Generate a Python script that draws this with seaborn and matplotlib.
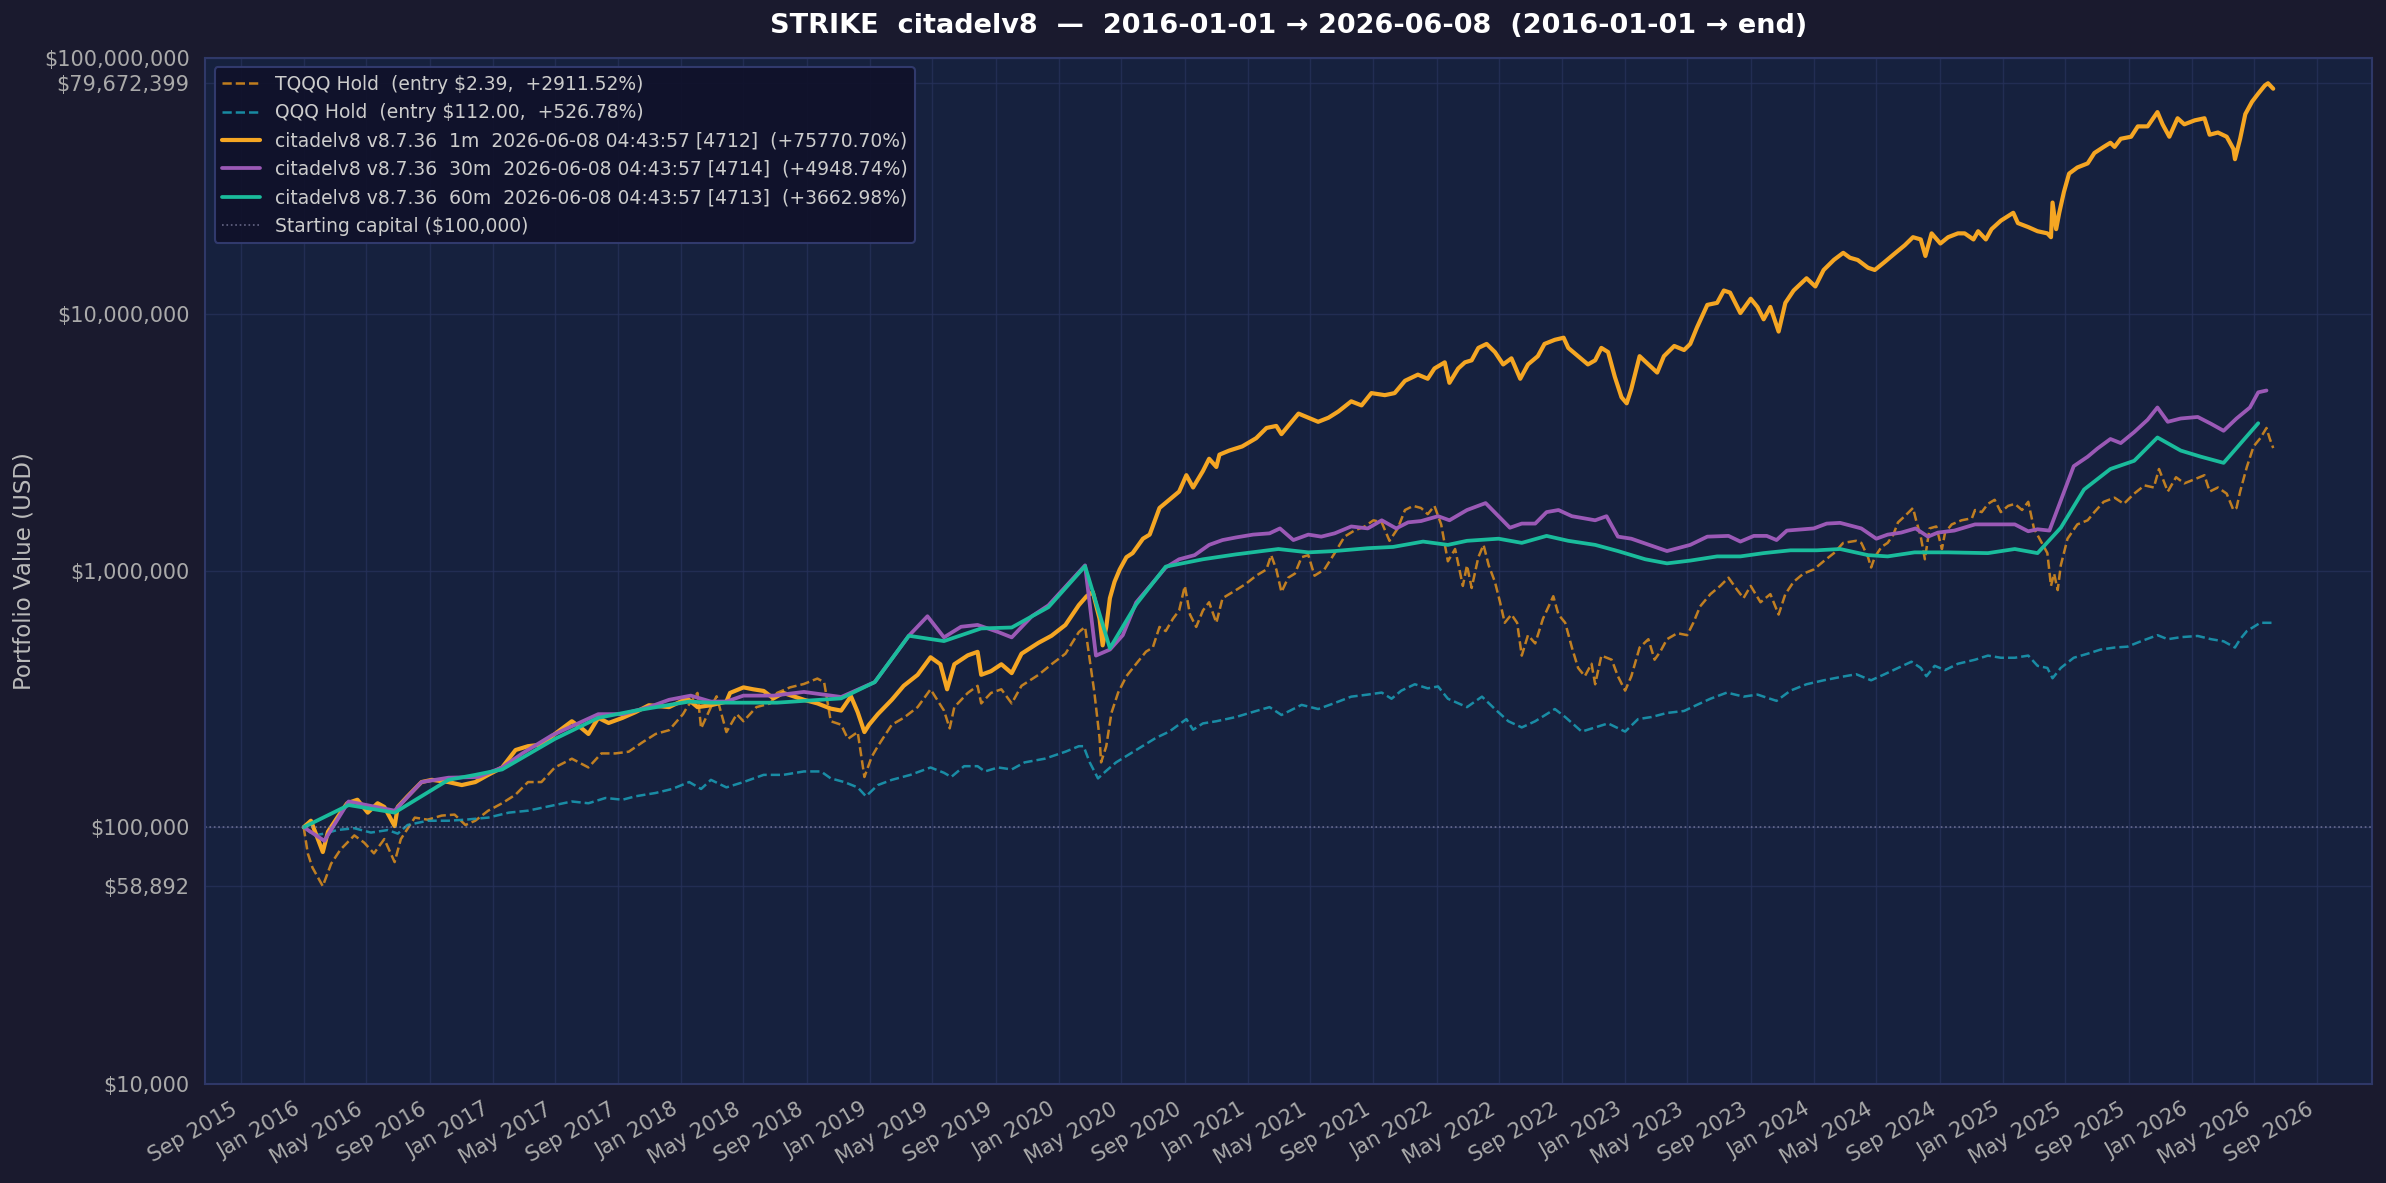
import numpy as np
import pandas as pd
import matplotlib
matplotlib.use("Agg")
import matplotlib.pyplot as plt
import matplotlib.dates as mdates
import matplotlib.ticker as mticker
import seaborn as sns

# equity curves, values in $ thousands

m1_dates = [
    "2016-01-01", "2016-01-15", "2016-02-07", "2016-02-17", "2016-03-06", "2016-03-25", "2016-04-14", "2016-05-04", "2016-05-23", "2016-06-05",
    "2016-06-25", "2016-07-01", "2016-07-20", "2016-08-16", "2016-09-05", "2016-10-07", "2016-11-02", "2016-11-28", "2016-12-23",
    "2017-01-19", "2017-02-14", "2017-03-10", "2017-04-05", "2017-05-01", "2017-06-03", "2017-06-22", "2017-07-05", "2017-07-24", "2017-08-13",
    "2017-09-09", "2017-10-04", "2017-10-30", "2017-12-08",
    "2018-01-12", "2018-02-01", "2018-02-27", "2018-03-29", "2018-04-05", "2018-05-01", "2018-05-20", "2018-06-09", "2018-06-28", "2018-07-17",
    "2018-08-06", "2018-08-26", "2018-09-21", "2018-10-17", "2018-11-06", "2018-11-25", "2018-12-08", "2018-12-21", "2018-12-30",
    "2019-01-16", "2019-02-12", "2019-03-07", "2019-04-03", "2019-04-28", "2019-05-17", "2019-05-30", "2019-06-13", "2019-07-09", "2019-07-28",
    "2019-08-04", "2019-08-23", "2019-09-12", "2019-10-02", "2019-10-21", "2019-11-23", "2019-12-18",
    "2020-01-14", "2020-02-09", "2020-02-24", "2020-03-07", "2020-03-20", "2020-03-26", "2020-04-02", "2020-04-09", "2020-04-18", "2020-04-28",
    "2020-05-11", "2020-05-23", "2020-06-12", "2020-06-25", "2020-07-14", "2020-08-02", "2020-08-21", "2020-09-04", "2020-09-17", "2020-10-06",
    "2020-10-18", "2020-11-01", "2020-11-07", "2020-11-26", "2020-12-21",
    "2021-01-17", "2021-02-06", "2021-02-25", "2021-03-07", "2021-03-20", "2021-04-09", "2021-04-28", "2021-05-17", "2021-06-06", "2021-06-25",
    "2021-07-20", "2021-08-09", "2021-08-28", "2021-09-23", "2021-10-12", "2021-11-01", "2021-11-26", "2021-12-15", "2021-12-28",
    "2022-01-17", "2022-01-26", "2022-02-12", "2022-02-25", "2022-03-10", "2022-03-23", "2022-04-08", "2022-04-24", "2022-05-10", "2022-05-26",
    "2022-06-12", "2022-06-27", "2022-07-16", "2022-07-29", "2022-08-18", "2022-09-04", "2022-09-13", "2022-10-02", "2022-10-21", "2022-11-04",
    "2022-11-16", "2022-11-29", "2022-12-12", "2022-12-25",
    "2023-01-04", "2023-01-13", "2023-01-29", "2023-02-15", "2023-03-04", "2023-03-17", "2023-04-06", "2023-04-25", "2023-05-07", "2023-05-20",
    "2023-06-09", "2023-06-28", "2023-07-11", "2023-07-23", "2023-08-12", "2023-09-01", "2023-09-14", "2023-09-26", "2023-10-09", "2023-10-25",
    "2023-11-07", "2023-11-23", "2023-12-18",
    "2024-01-04", "2024-01-20", "2024-02-09", "2024-02-27", "2024-03-11", "2024-03-26", "2024-04-15", "2024-04-28", "2024-05-17", "2024-06-06",
    "2024-06-25", "2024-07-11", "2024-07-26", "2024-08-04", "2024-08-16", "2024-09-02", "2024-09-17", "2024-10-06", "2024-10-19", "2024-11-05",
    "2024-11-14", "2024-11-29", "2024-12-10", "2024-12-28",
    "2025-01-21", "2025-01-30", "2025-02-19", "2025-03-09", "2025-03-28", "2025-04-04", "2025-04-07", "2025-04-14", "2025-04-20", "2025-04-29",
    "2025-05-09", "2025-05-25", "2025-06-14", "2025-06-27", "2025-07-15", "2025-07-28", "2025-08-05", "2025-08-17", "2025-09-06", "2025-09-19",
    "2025-10-08", "2025-10-27", "2025-11-06", "2025-11-19", "2025-12-05", "2025-12-18",
    "2026-01-07", "2026-01-26", "2026-02-05", "2026-02-21", "2026-03-10", "2026-03-23", "2026-03-26", "2026-04-05", "2026-04-15", "2026-04-28",
    "2026-05-10", "2026-05-23", "2026-05-29", "2026-06-08",
]
m1_k = [
    100, 106, 80, 96, 109, 124, 128, 114, 124, 120, 101, 120, 132, 150, 153, 150, 146, 150, 160,
    171, 200, 207, 210, 231, 259, 243, 231, 267, 255, 267, 281, 299, 294,
    318, 294, 299, 309, 334, 351, 345, 340, 318, 334, 324, 314, 304, 290, 285, 324, 281, 235, 251,
    276, 314, 356, 393, 460, 432, 345, 432, 468, 483, 393, 406, 432, 399, 475, 524, 558,
    615, 735, 796, 826, 650, 512, 604, 782, 906, 1012, 1130, 1172, 1334, 1384, 1758, 1892, 2037, 2360, 2113, 2449,
    2735, 2541, 2838, 2944, 3055,
    3289, 3606, 3673, 3412, 3673, 4103, 3954, 3811, 3954, 4179, 4581, 4416, 4932, 4842, 4932, 5508, 5821, 5610, 6152,
    6501, 5408, 6152, 6501, 6620, 7400, 7670, 7130, 6380, 6740, 5610, 6380, 6870, 7670, 7960, 8110, 7400, 6870, 6380, 6620,
    7400, 7130, 5710, 4750,
    4500, 5120, 6870, 6380, 5930, 6870, 7530, 7260, 7670, 8890, 10890, 11090, 12390, 12160, 10120, 11510, 10690, 9570, 10690, 8570,
    11090, 12390, 13830,
    12850, 14890, 16320, 17380, 16630, 16300, 15200, 14900, 16000, 17300, 18600, 20000, 19600, 16900, 20700, 18900, 20000, 20700, 20700, 19600,
    21100, 19600, 21500, 23200,
    24900, 22700, 21900, 21100, 20700, 20000, 27300, 21500, 24900, 30000, 35400, 37400, 38800, 42600, 45000, 46700, 45000, 48400, 49300, 54100,
    54100, 61500, 55100, 49300, 58200, 55100,
    57100, 58200, 50200, 51200, 49300, 44200, 40300, 48400, 60400, 67500, 72600, 78200, 79672.399, 75870.7,
]

m30_dates = [
    "2016-01-01", "2016-02-10", "2016-03-28", "2016-06-25", "2016-08-16", "2016-10-07", "2016-12-04", "2017-01-19", "2017-02-27", "2017-04-25",
    "2017-07-24", "2017-09-09", "2017-10-30", "2017-12-08", "2018-01-19", "2018-02-27", "2018-03-29", "2018-05-01", "2018-06-28", "2018-08-26",
    "2018-11-06", "2019-01-10", "2019-03-17", "2019-04-22", "2019-05-24", "2019-06-26", "2019-07-28", "2019-09-06", "2019-10-02", "2019-11-10",
    "2019-12-12", "2020-02-21", "2020-03-13", "2020-04-09", "2020-05-04", "2020-05-30", "2020-07-26", "2020-08-21", "2020-09-20", "2020-10-18",
    "2020-11-13", "2020-12-09", "2021-01-11", "2021-02-12", "2021-03-04", "2021-03-30", "2021-04-28", "2021-05-23", "2021-06-18", "2021-07-20",
    "2021-08-21", "2021-09-17", "2021-10-15", "2021-11-07", "2021-12-02", "2022-01-04", "2022-01-26", "2022-03-01", "2022-04-06", "2022-05-23",
    "2022-06-15", "2022-07-11", "2022-08-02", "2022-08-25", "2022-09-20", "2022-11-04", "2022-11-26", "2022-12-18", "2023-01-13", "2023-03-23",
    "2023-05-07", "2023-06-09", "2023-07-20", "2023-08-12", "2023-09-07", "2023-10-02", "2023-10-21", "2023-11-10", "2024-01-01", "2024-01-26",
    "2024-02-21", "2024-04-02", "2024-05-01", "2024-05-23", "2024-06-18", "2024-07-16", "2024-08-09", "2024-08-28", "2024-09-29", "2024-11-08",
    "2025-01-24", "2025-02-19", "2025-03-09", "2025-04-01", "2025-05-18", "2025-06-14", "2025-07-03", "2025-07-28", "2025-08-17", "2025-09-12",
    "2025-10-08", "2025-10-27", "2025-11-16", "2025-12-11", "2026-01-13", "2026-02-08", "2026-03-04", "2026-03-29", "2026-04-24", "2026-05-10",
    "2026-05-26",
]
m30_k = [
    100, 88.5, 126, 116, 150, 156, 157, 171, 194, 228,
    276, 276, 294, 314, 326, 309, 309, 326, 326, 337,
    322, 368, 558, 665, 550, 605, 615, 577, 550, 665,
    733, 1050, 467, 493, 561, 753, 1030, 1109, 1151, 1262,
    1318, 1349, 1384, 1400, 1463, 1318, 1384, 1359, 1400, 1489,
    1463, 1574, 1463, 1545, 1563, 1633, 1574, 1726, 1837, 1472,
    1528, 1528, 1694, 1726, 1633, 1574, 1633, 1359, 1334, 1194,
    1262, 1359, 1368, 1300, 1368, 1368, 1318, 1435, 1463, 1528,
    1538, 1463, 1334, 1384, 1409, 1463, 1359, 1409, 1435, 1517,
    1517, 1426, 1452, 1435, 2559, 2786, 2999, 3266, 3148, 3475,
    3882, 4335, 3811, 3926, 3981, 3741, 3516, 3926, 4335, 4966,
    5048.74,
]

m60_dates = [
    "2016-01-01", "2016-03-28", "2016-06-25", "2016-10-07", "2016-11-28", "2017-01-19", "2017-05-01", "2017-07-24", "2017-10-04", "2018-01-16",
    "2018-02-27", "2018-07-05", "2018-11-06", "2019-01-10", "2019-03-17", "2019-05-24", "2019-08-04", "2019-10-02", "2019-12-12", "2020-02-21",
    "2020-04-09", "2020-05-30", "2020-07-26", "2020-10-06", "2020-12-09", "2021-03-01", "2021-04-28", "2021-06-18", "2021-08-21", "2021-10-09",
    "2021-12-06", "2022-01-23", "2022-03-01", "2022-05-01", "2022-06-15", "2022-08-02", "2022-09-13", "2022-11-04", "2022-12-18", "2023-02-09",
    "2023-03-23", "2023-05-07", "2023-06-28", "2023-08-12", "2023-09-26", "2023-11-17", "2024-01-07", "2024-02-21", "2024-04-15", "2024-05-23",
    "2024-07-14", "2024-09-17", "2024-12-03", "2025-01-24", "2025-03-09", "2025-04-23", "2025-06-07", "2025-07-28", "2025-09-12", "2025-10-27",
    "2025-12-11", "2026-01-19", "2026-03-04", "2026-05-10",
]
m60_k = [
    100, 122, 114, 153, 160, 168, 221, 267, 285, 309,
    306, 306, 318, 368, 558, 532, 596, 601, 721, 1042,
    499, 740, 1038, 1109, 1159, 1216, 1180, 1194, 1225, 1239,
    1300, 1262, 1309, 1334, 1285, 1368, 1309, 1262, 1194, 1109,
    1069, 1096, 1138, 1138, 1172, 1202, 1202, 1216, 1151, 1138,
    1180, 1180, 1172, 1216, 1172, 1472, 2075, 2495, 2685, 3311,
    2944, 2786, 2636, 3762.98,
]

tqqq_dates = [
    "2016-01-01", "2016-01-09", "2016-01-18", "2016-02-04", "2016-02-07", "2016-02-23", "2016-03-12", "2016-04-08", "2016-04-27", "2016-05-16",
    "2016-06-05", "2016-06-25", "2016-07-07", "2016-08-03", "2016-08-28", "2016-09-24", "2016-10-19", "2016-11-09", "2016-11-28", "2016-12-23",
    "2017-01-19", "2017-02-14", "2017-03-10", "2017-04-05", "2017-05-01", "2017-06-03", "2017-07-05", "2017-07-30", "2017-08-26", "2017-09-21",
    "2017-10-17", "2017-11-12", "2017-12-08",
    "2018-01-04", "2018-01-12", "2018-02-01", "2018-02-08", "2018-02-27", "2018-03-10", "2018-03-29", "2018-04-18", "2018-05-01", "2018-05-26",
    "2018-06-22", "2018-07-05", "2018-07-30", "2018-08-26", "2018-09-21", "2018-10-04", "2018-10-17", "2018-11-06", "2018-11-19", "2018-12-08",
    "2018-12-21",
    "2019-01-04", "2019-01-16", "2019-02-12", "2019-03-07", "2019-04-03", "2019-04-28", "2019-05-24", "2019-06-04", "2019-06-13", "2019-07-09",
    "2019-07-28", "2019-08-04", "2019-08-23", "2019-09-12", "2019-10-02", "2019-10-21", "2019-11-23", "2019-12-18",
    "2020-01-14", "2020-02-09", "2020-02-21", "2020-03-01", "2020-03-10", "2020-03-20", "2020-03-23", "2020-04-02", "2020-04-12", "2020-04-25",
    "2020-05-11", "2020-05-30", "2020-06-18", "2020-07-01", "2020-07-14", "2020-07-26", "2020-08-09", "2020-08-21", "2020-09-01", "2020-09-11",
    "2020-09-23", "2020-10-06", "2020-10-18", "2020-11-01", "2020-11-13", "2020-12-09", "2020-12-28",
    "2021-01-17", "2021-02-06", "2021-02-15", "2021-02-25", "2021-03-07", "2021-03-20", "2021-04-02", "2021-04-15", "2021-04-28", "2021-05-10",
    "2021-05-29", "2021-06-18", "2021-07-07", "2021-07-26", "2021-08-15", "2021-09-01", "2021-09-17", "2021-10-02", "2021-10-18", "2021-11-01",
    "2021-11-17", "2021-12-02", "2021-12-15", "2021-12-28",
    "2022-01-10", "2022-01-23", "2022-02-06", "2022-02-21", "2022-03-01", "2022-03-10", "2022-03-23", "2022-04-02", "2022-04-12", "2022-04-24",
    "2022-05-04", "2022-05-13", "2022-05-26", "2022-06-06", "2022-06-15", "2022-06-27", "2022-07-11", "2022-07-26", "2022-08-06", "2022-08-15",
    "2022-08-25", "2022-09-07", "2022-09-20", "2022-10-02", "2022-10-15", "2022-10-28", "2022-11-04", "2022-11-16", "2022-12-06", "2022-12-18",
    "2023-01-01", "2023-01-13", "2023-01-29", "2023-02-15", "2023-02-27", "2023-03-10", "2023-03-23", "2023-04-12", "2023-05-01", "2023-05-13",
    "2023-05-26", "2023-06-15", "2023-07-04", "2023-07-20", "2023-08-06", "2023-08-18", "2023-09-01", "2023-09-20", "2023-10-09", "2023-10-25",
    "2023-11-07", "2023-11-23", "2023-12-12",
    "2024-01-01", "2024-01-20", "2024-02-09", "2024-02-27", "2024-03-23", "2024-04-02", "2024-04-15", "2024-04-21", "2024-04-28", "2024-05-11",
    "2024-05-23", "2024-06-03", "2024-06-12", "2024-06-25", "2024-07-11", "2024-07-17", "2024-07-26", "2024-08-03", "2024-08-12", "2024-08-25",
    "2024-09-05", "2024-09-11", "2024-09-24", "2024-10-13", "2024-11-02", "2024-11-08", "2024-11-21", "2024-12-03", "2024-12-16", "2024-12-28",
    "2025-01-11", "2025-01-24", "2025-02-07", "2025-02-19", "2025-03-02", "2025-03-15", "2025-03-28", "2025-04-04", "2025-04-10", "2025-04-17",
    "2025-04-23", "2025-05-06", "2025-05-25", "2025-06-14", "2025-06-27", "2025-07-15", "2025-08-05", "2025-08-23", "2025-09-12", "2025-10-02",
    "2025-10-20", "2025-10-30", "2025-11-16", "2025-12-02", "2025-12-18",
    "2026-01-07", "2026-01-26", "2026-02-05", "2026-02-21", "2026-03-10", "2026-03-23", "2026-03-29", "2026-04-05", "2026-04-18", "2026-05-01",
    "2026-05-14", "2026-05-26", "2026-06-01", "2026-06-08",
]
tqqq_k = [
    100, 79, 69.6, 60.3, 58.892, 72, 81.7, 92.9, 87.1, 79.1,
    89.9, 73.1, 89.9, 109, 107, 111, 112, 102, 106, 116,
    124, 134, 150, 150, 171, 185, 171, 194, 194, 197,
    214, 231, 239,
    276, 294, 334, 243, 294, 324, 235, 276, 259, 294,
    304, 334, 351, 362, 380, 368, 259, 251, 221, 235,
    157,
    188, 207, 251, 267, 294, 345, 285, 243, 294, 334,
    356, 304, 334, 345, 304, 356, 393, 432,
    475, 577, 604, 450, 335, 223, 179, 207, 279, 335,
    388, 434, 484, 502, 604, 582, 650, 700, 873, 675,
    604, 700, 754, 627, 782, 841, 889,
    957, 1012, 1151, 1012, 826, 940, 975, 1130, 1151, 957,
    1012, 1172, 1359, 1435, 1489, 1574, 1545, 1309, 1463, 1726,
    1791, 1758, 1663, 1791,
    1517, 1089, 1216, 873, 1050, 857, 1130, 1262, 1050, 906,
    754, 627, 675, 627, 467, 561, 521, 650, 726, 796,
    675, 627, 502, 418, 388, 434, 361, 467, 450, 388,
    341, 388, 502, 541, 450, 484, 541, 571, 561, 627,
    726, 811, 873, 940, 841, 782, 873, 754, 811, 675,
    811, 906, 975,
    1012, 1089, 1172, 1285, 1309, 1285, 1130, 1030, 1130, 1239,
    1285, 1384, 1545, 1633, 1758, 1574, 1359, 1109, 1463, 1489,
    1216, 1409, 1517, 1574, 1603, 1726, 1694, 1824, 1892, 1694,
    1791, 1824, 1726, 1858, 1463, 1309, 1172, 873, 975, 841,
    1050, 1334, 1517, 1574, 1694, 1858, 1928, 1824, 2000, 2153,
    2113, 2495, 2037, 2317, 2193,
    2275, 2360, 2037, 2113, 2000, 1726, 1758, 2037, 2541, 3055,
    3289, 3606, 3289, 3011.52,
]

qqq_dates = [
    "2016-01-01", "2016-01-21", "2016-02-10", "2016-03-06", "2016-04-08", "2016-05-10", "2016-06-12", "2016-07-01", "2016-07-20", "2016-08-28",
    "2016-10-07", "2016-11-09", "2016-12-23",
    "2017-02-01", "2017-03-10", "2017-05-01", "2017-06-03", "2017-07-05", "2017-08-07", "2017-09-09", "2017-10-04", "2017-11-12", "2017-12-14",
    "2018-01-16", "2018-02-08", "2018-02-27", "2018-03-29", "2018-05-01", "2018-06-09", "2018-07-17", "2018-08-26", "2018-09-28", "2018-10-17",
    "2018-11-12", "2018-12-08", "2018-12-24",
    "2019-01-16", "2019-02-12", "2019-03-20", "2019-04-28", "2019-05-24", "2019-06-07", "2019-07-02", "2019-07-28", "2019-08-11", "2019-09-06",
    "2019-10-02", "2019-10-27", "2019-12-05",
    "2020-01-14", "2020-02-09", "2020-02-18", "2020-03-01", "2020-03-17", "2020-04-02", "2020-04-21", "2020-05-30", "2020-07-07", "2020-08-02",
    "2020-09-04", "2020-09-17", "2020-10-06", "2020-11-01", "2020-12-09",
    "2021-01-17", "2021-02-12", "2021-03-07", "2021-04-15", "2021-05-17", "2021-06-18", "2021-07-20", "2021-08-21", "2021-09-17", "2021-10-06",
    "2021-10-25", "2021-11-20", "2021-12-15",
    "2022-01-04", "2022-01-23", "2022-03-01", "2022-03-30", "2022-04-24", "2022-05-20", "2022-06-15", "2022-07-11", "2022-08-06", "2022-08-18",
    "2022-09-07", "2022-10-09", "2022-11-04", "2022-11-29",
    "2023-01-01", "2023-01-26", "2023-02-21", "2023-03-23", "2023-04-25", "2023-05-20", "2023-06-15", "2023-07-17", "2023-08-18", "2023-09-14",
    "2023-10-21", "2023-11-17", "2023-12-18",
    "2024-01-20", "2024-02-21", "2024-03-23", "2024-04-21", "2024-05-17", "2024-06-12", "2024-07-08", "2024-07-26", "2024-08-06", "2024-08-22",
    "2024-09-11", "2024-10-06", "2024-11-08", "2024-12-03", "2024-12-28",
    "2025-01-24", "2025-02-19", "2025-03-09", "2025-03-28", "2025-04-07", "2025-04-23", "2025-05-18", "2025-06-14", "2025-07-09", "2025-08-05",
    "2025-08-30", "2025-09-25", "2025-10-27", "2025-11-16", "2025-12-11",
    "2026-01-13", "2026-02-08", "2026-03-04", "2026-03-26", "2026-04-05", "2026-04-18", "2026-05-14", "2026-06-08",
]
qqq_k = [
    100, 92.9, 94.4, 97.5, 99.1, 95.3, 97.5, 94.4, 102, 106,
    106, 107, 109,
    114, 116, 122, 126, 124, 130, 128, 132, 136, 141,
    150, 141, 153, 143, 150, 160, 160, 165, 165, 155,
    150, 143, 132,
    146, 153, 160, 171, 163, 157, 173, 173, 165, 171,
    168, 179, 185,
    197, 207, 207, 179, 155, 166, 179, 200, 223, 236,
    264, 240, 254, 259, 269,
    284, 294, 274, 300, 289, 305, 323, 329, 335, 317,
    341, 361, 348,
    354, 317, 294, 323, 289, 259, 245, 259, 279, 289,
    269, 236, 245, 254,
    236, 264, 269, 279, 284, 300, 317, 335, 323, 329,
    311, 341, 361,
    374, 385, 395, 374, 395, 418, 442, 418, 388, 426,
    410, 434, 450, 467, 458,
    458, 467, 426, 418, 381, 418, 458, 475, 493, 502,
    506, 531, 561, 541, 551,
    557, 541, 531, 502, 541, 582, 627, 626.78,
]

start_capital = 100000
extra_yticks = [58892, 79672399]

labels = [
    "TQQQ Hold  (entry $2.39,  +2911.52%)",
    "QQQ Hold  (entry $112.00,  +526.78%)",
    "citadelv8 v8.7.36  1m  2026-06-08 04:43:57 [4712]  (+75770.70%)",
    "citadelv8 v8.7.36  30m  2026-06-08 04:43:57 [4714]  (+4948.74%)",
    "citadelv8 v8.7.36  60m  2026-06-08 04:43:57 [4713]  (+3662.98%)",
]

BG = "#1a1a2e"
PANEL = "#16213e"
EDGE = "#2f3868"
TXT = "#aaaaaa"

sns.set_theme(style="dark", rc={
    "axes.facecolor": PANEL,
    "figure.facecolor": BG,
    "axes.edgecolor": EDGE,
    "grid.color": "#263159",
    "text.color": "#cccccc",
    "xtick.color": TXT,
    "ytick.color": TXT,
    "axes.labelcolor": "#bbbbbb",
})
plt.rcParams["font.family"] = ["DejaVu Sans"]

fig, ax = plt.subplots(figsize=(2386 / 150, 1183 / 150), dpi=150)
fig.subplots_adjust(left=0.086, right=0.994, top=0.951, bottom=0.084)

series = [
    (tqqq_dates, tqqq_k, "#e0901c", "--", 1.2, 0.85),
    (qqq_dates, qqq_k, "#1aa0b8", "--", 1.2, 0.85),
    (m1_dates, m1_k, "#f5a623", "-", 2.0, 1.0),
    (m30_dates, m30_k, "#9b59b6", "-", 1.8, 1.0),
    (m60_dates, m60_k, "#1abc9c", "-", 1.8, 1.0),
]
for (dates, vals, color, ls, lw, alpha), name in zip(series, labels):
    df = pd.DataFrame({"date": pd.to_datetime(dates), "value": np.array(vals, dtype=float) * 1000})
    sns.lineplot(data=df, x="date", y="value", ax=ax, color=color, linestyle=ls,
                 linewidth=lw, alpha=alpha, label=name, estimator=None)

ax.axhline(start_capital, color="#8888aa", linestyle=":", linewidth=0.8, alpha=0.7,
           label="Starting capital ($100,000)")

ax.set_yscale("log")
ax.set_ylim(1e4, 1e8)
ax.set_yticks([1e4, 1e5, 1e6, 1e7, 1e8] + extra_yticks)
ax.yaxis.set_major_formatter(mticker.FuncFormatter(lambda v, p: f"${v:,.0f}"))
ax.yaxis.set_minor_formatter(mticker.NullFormatter())
ax.xaxis.set_major_locator(mdates.MonthLocator(bymonth=[1, 5, 9]))
ax.xaxis.set_major_formatter(mdates.DateFormatter("%b %Y"))

ax.tick_params(axis="both", which="major", labelsize=10, colors=TXT, length=4, width=0.8)
ax.tick_params(axis="y", which="minor", length=2, color="#555570")
plt.setp(ax.get_xticklabels(), rotation=30, ha="right")

ax.grid(True, which="major", color="#263159", linewidth=0.7, alpha=0.8)
ax.set_axisbelow(True)
for sp in ax.spines.values():
    sp.set_color(EDGE)
    sp.set_linewidth(1.0)

ax.set_xlabel("")
ax.set_ylabel("Portfolio Value (USD)", fontsize=11, color="#bbbbbb")
ax.set_title("STRIKE  citadelv8  —  2016-01-01 → 2026-06-08  (2016-01-01 → end)",
             fontsize=13, fontweight="bold", color="white", pad=12)

leg = ax.legend(loc="upper left", fontsize=9, facecolor="#10112a", edgecolor="#343d72",
                framealpha=0.92, labelcolor="#cccccc")

fig.savefig("out.png", dpi=150, facecolor=BG)
